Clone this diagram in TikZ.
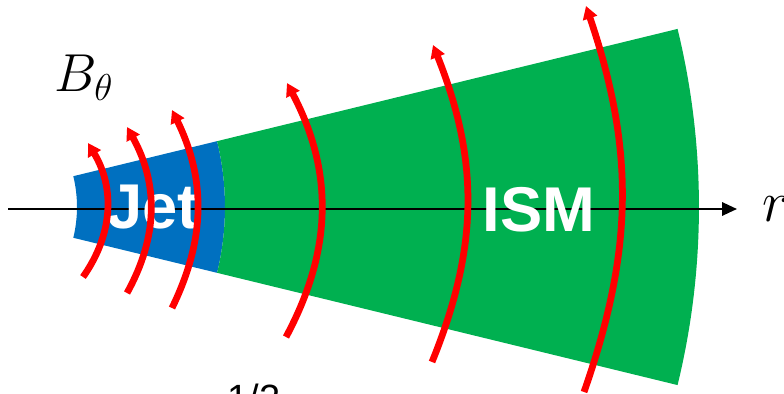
\RequirePackage{fix-cm}
\documentclass[tikz,border=0pt]{standalone}
\usepackage{fontspec}
\setsansfont{Liberation Sans}
\usepackage{tikz}
\usetikzlibrary{arrows.meta,calc}
\definecolor{jetblue}{RGB}{0,112,192}
\definecolor{ismgreen}{RGB}{0,176,80}
\definecolor{fieldred}{RGB}{255,0,0}

\begin{document}
\begin{tikzpicture}[
    x=0.025cm, y=0.025cm,
    region/.style={font=\sffamily\bfseries\fontsize{45}{54}\selectfont, text=white, anchor=base, inner sep=0pt},
    field/.style={draw=fieldred, line width=4.8pt, -{Triangle[length=3.2mm, width=3.6mm]}},
    arr/.style={line width=1.5pt, -{Triangle[length=3.7mm, width=3.3mm]}},
]
\useasboundingbox (0,0) rectangle (784,394);
\clip (0,0) rectangle (784,394);
\coordinate (apex) at (-53,187);

% cone: jet and ISM
\fill[jetblue] ($(apex)+(-13.7:130)$) arc[start angle=-13.7, end angle=13.7, radius=130]
  -- ($(apex)+(13.7:278)$) arc[start angle=13.7, end angle=-13.7, radius=278] -- cycle;
\fill[ismgreen] ($(apex)+(-13.7:278)$) arc[start angle=-13.7, end angle=13.7, radius=278]
  -- ($(apex)+(13.7:752)$) arc[start angle=13.7, end angle=-13.7, radius=752] -- cycle;

% r axis
\coordinate (o) at (8,185);
\coordinate (rtip) at (737,185);
\draw[arr] (o) -- (rtip);
\node[anchor=base west, inner sep=0pt, font=\fontsize{41}{48}\selectfont] (rlab) at (762,172) {$r$};

\node[region] (jet) at (153,165) {Jet};
\node[region] (ism) at (539,162) {ISM};
\node[anchor=base, inner sep=0pt, font=\fontsize{38}{44}\selectfont] (btheta) at (84,302) {$B_\theta$};
\node[anchor=base, inner sep=0pt, font=\sffamily\fontsize{27}{32}\selectfont] (half) at (254,-18) {1/2};

% field lines
\foreach \i/\xb/\yb/\xt/\yt/\ang in {1/83/117/88/251/33, 2/127/101/127/267/29, 3/172/86/172/284/26,
    4/286/57/287/311/28, 5/432/32/433/349/22, 6/584/2/586/388/19}{
  \coordinate (b\i) at (\xb,\yb);
  \coordinate (t\i) at (\xt,\yt);
  \draw[field] (b\i) to[bend right=\ang] (t\i);
}
\end{tikzpicture}
\end{document}
